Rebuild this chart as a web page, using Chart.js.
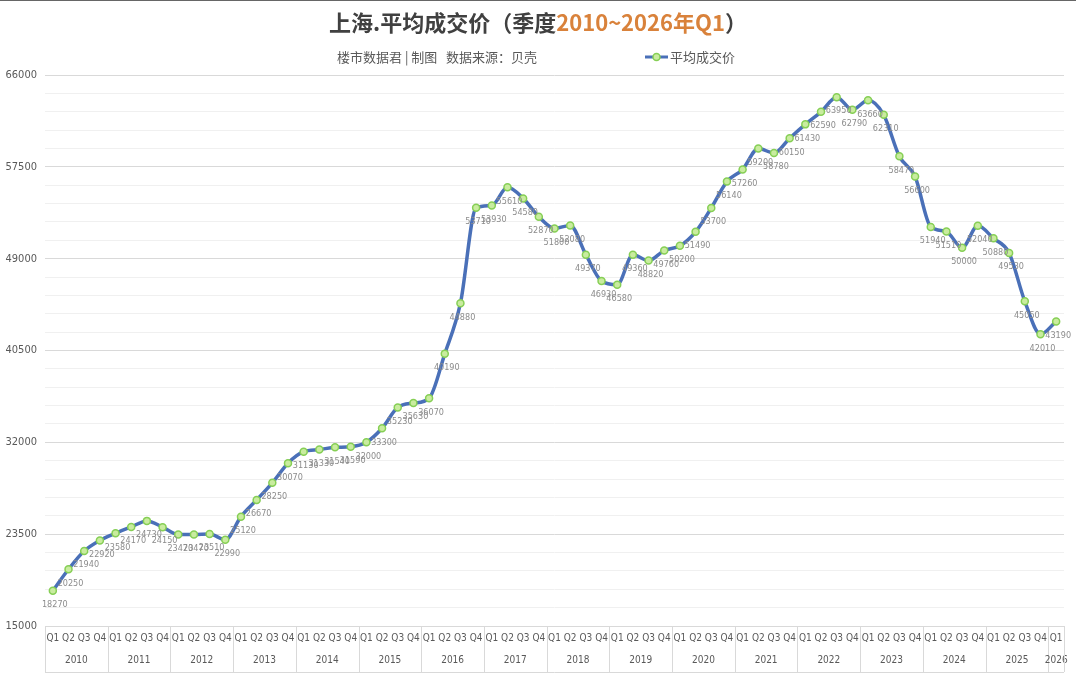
<!DOCTYPE html>
<html>
<head>
<meta charset="utf-8">
<script src="https://cdn.jsdelivr.net/npm/chart.js@4.4.1/dist/chart.umd.min.js"></script>
<style>
  html, body { margin: 0; padding: 0; background: #fff; }
  #wrap { position: relative; width: 1076px; height: 674px; border-top: 1px solid #666; box-sizing: border-box; }
  canvas { display: block; }
</style>
</head>
<body>
<div id="wrap"><canvas id="priceChart" width="1076" height="673"></canvas></div>
<script>
// quarters and years (2010 Q1 ~ 2026 Q1)
const years = ['2010', '2011', '2012', '2013', '2014', '2015', '2016', '2017', '2018',
               '2019', '2020', '2021', '2022', '2023', '2024', '2025', '2026'];
const quarters = [];
years.forEach(function(y) {
    const n = y === '2026' ? 1 : 4;
    for (let q = 1; q <= n; q++) quarters.push('Q' + q);
});

// 平均成交价 (元/平)
const avgPrice = [
    18270, 20250, 21940, 22920,
    23580, 24170, 24730, 24150,
    23470, 23470, 23510, 22990,
    25120, 26670, 28250, 30070,
    31130, 31330, 31540, 31590,
    32000, 33300, 35230, 35630,
    36070, 40190, 44880, 53710,
    53930, 55610, 54580, 52870,
    51800, 52080, 49370, 46930,
    46580, 49360, 48820, 49760,
    50200, 51490, 53700, 56140,
    57260, 59200, 58780, 60150,
    61430, 62590, 63950, 62790,
    63660, 62310, 58470, 56600,
    51940, 51510, 50000, 52040,
    50880, 49530, 45050, 42010,
    43190
];

const yMin = 15000, yMax = 66000, yMajor = 8500, yMinor = 1700;

const colors = {
    line: '#4a70b8',
    pointFill: '#c9ec9f',
    pointBorder: '#86cf55',
    title: '#404040',
    accent: '#d9823b',
    text: '#595959',
    label: '#8c8c8c',
    gridMajor: '#d9d9d9',
    gridMinor: '#f0f0f0'
};

const cjk = '"Noto Sans CJK SC", "Noto Sans", sans-serif';
const narrow = '"Liberation Sans Narrow", "DejaVu Sans Condensed", "Liberation Sans", sans-serif';

// header: title, subtitle and legend
const headerPlugin = {
    id: 'header',
    afterDraw(chart) {
        const ctx = chart.ctx;
        ctx.save();
        ctx.textBaseline = 'middle';
        ctx.font = 'bold 22px ' + cjk;
        const parts = [
            ['上海.平均成交价（季度', colors.title],
            ['2010~2026年Q1', colors.accent],
            ['）', colors.title]
        ];
        let total = 0;
        parts.forEach(p => total += ctx.measureText(p[0]).width);
        let x = 538 - total / 2;
        parts.forEach(p => {
            ctx.fillStyle = p[1];
            ctx.textAlign = 'left';
            ctx.fillText(p[0], x, 22);
            x += ctx.measureText(p[0]).width;
        });

        ctx.font = '13px ' + cjk;
        ctx.fillStyle = colors.text;
        ctx.fillText('楼市数据君 | 制图   数据来源：贝壳', 337, 56);

        // legend
        ctx.strokeStyle = colors.line;
        ctx.lineWidth = 3;
        ctx.beginPath();
        ctx.moveTo(645, 56);
        ctx.lineTo(668, 56);
        ctx.stroke();
        ctx.beginPath();
        ctx.arc(656.5, 56, 3.5, 0, Math.PI * 2);
        ctx.fillStyle = colors.pointFill;
        ctx.fill();
        ctx.lineWidth = 1.5;
        ctx.strokeStyle = colors.pointBorder;
        ctx.stroke();
        ctx.fillStyle = colors.text;
        ctx.fillText('平均成交价', 670, 56);
        ctx.restore();
    }
};

// value labels under each point
const valueLabels = {
    id: 'valueLabels',
    afterDatasetsDraw(chart) {
        const ctx = chart.ctx;
        const meta = chart.getDatasetMeta(0);
        ctx.save();
        ctx.font = '9px ' + narrow;
        ctx.fillStyle = colors.label;
        ctx.textAlign = 'center';
        ctx.textBaseline = 'middle';
        meta.data.forEach(function(pt, i) {
            ctx.fillText(String(avgPrice[i]), pt.x + 2, pt.y + 14);
        });
        ctx.restore();
    }
};

// year row and year separators under the quarter labels
const yearAxis = {
    id: 'yearAxis',
    afterDraw(chart) {
        const ctx = chart.ctx;
        const xs = chart.scales.x;
        const area = chart.chartArea;
        const half = (xs.getPixelForValue(1) - xs.getPixelForValue(0)) / 2;
        const top = area.bottom, bottom = 671;
        ctx.save();
        ctx.strokeStyle = colors.gridMajor;
        ctx.lineWidth = 1;
        ctx.font = '10px ' + narrow;
        ctx.fillStyle = colors.text;
        ctx.textAlign = 'center';
        ctx.textBaseline = 'middle';
        let idx = 0;
        years.forEach(function(y) {
            const n = y === '2026' ? 1 : 4;
            const x0 = xs.getPixelForValue(idx) - half;
            const x1 = xs.getPixelForValue(idx + n - 1) + half;
            ctx.beginPath();
            ctx.moveTo(Math.round(x0) + 0.5, top);
            ctx.lineTo(Math.round(x0) + 0.5, bottom);
            ctx.stroke();
            ctx.fillText(y, (x0 + x1) / 2, 659);
            idx += n;
        });
        const xe = xs.getPixelForValue(idx - 1) + half;
        ctx.beginPath();
        ctx.moveTo(Math.round(xe) + 0.5, top);
        ctx.lineTo(Math.round(xe) + 0.5, bottom);
        ctx.moveTo(area.left, bottom + 0.5);
        ctx.lineTo(xe, bottom + 0.5);
        ctx.stroke();
        ctx.restore();
    }
};

new Chart(document.getElementById('priceChart'), {
    type: 'line',
    data: {
        labels: quarters,
        datasets: [{
            label: '平均成交价',
            data: avgPrice,
            borderColor: colors.line,
            borderWidth: 3.5,
            tension: 0.4,
            cubicInterpolationMode: 'monotone',
            pointRadius: 3.5,
            pointBorderWidth: 1.5,
            pointBackgroundColor: colors.pointFill,
            pointBorderColor: colors.pointBorder
        }]
    },
    options: {
        responsive: false,
        animation: false,
        layout: { padding: { top: 74, right: 12, left: 0, bottom: 0 } },
        plugins: {
            legend: { display: false },
            title: { display: false },
            tooltip: { enabled: false }
        },
        scales: {
            y: {
                min: yMin,
                max: yMax,
                afterFit(scale) { scale.width = 45; },
                ticks: {
                    stepSize: yMinor,
                    autoSkip: false,
                    padding: 8,
                    color: colors.text,
                    font: { family: narrow, size: 11 },
                    callback: function(value) {
                        return (value - yMin) % yMajor === 0 ? value : '';
                    }
                },
                grid: {
                    drawTicks: false,
                    color: function(c) {
                        return (c.tick.value - yMin) % yMajor === 0 ? colors.gridMajor : colors.gridMinor;
                    }
                },
                border: { display: false }
            },
            x: {
                offset: true,
                afterFit(scale) { scale.height = 48; },
                ticks: {
                    autoSkip: false,
                    maxRotation: 0,
                    padding: 6,
                    color: colors.text,
                    font: { family: narrow, size: 10 }
                },
                grid: { display: false, drawTicks: false },
                border: { display: true, color: colors.gridMajor }
            }
        }
    },
    plugins: [headerPlugin, valueLabels, yearAxis]
});
</script>
</body>
</html>
